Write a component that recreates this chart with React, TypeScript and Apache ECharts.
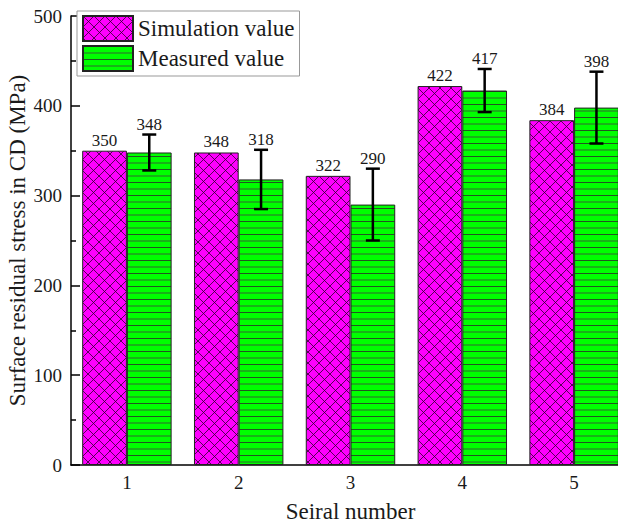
import React, { useEffect, useRef } from "react";
import * as echarts from "echarts";

const categories = ["1", "2", "3", "4", "5"];
const simulationValues = [350, 348, 322, 422, 384];
const measuredValues = [348, 318, 290, 417, 398];
const measuredErrors = [20, 33, 40, 24, 40];

const FONT = "Liberation Serif";
const TEXT = "#1a1a1a";

function makeCrossHatch(): HTMLCanvasElement {
  const c = document.createElement("canvas");
  c.width = 11;
  c.height = 11;
  const ctx = c.getContext("2d")!;
  ctx.fillStyle = "#ff00ff";
  ctx.fillRect(0, 0, 11, 11);
  ctx.strokeStyle = "#300030";
  ctx.lineWidth = 0.8;
  ctx.beginPath();
  ctx.moveTo(-1, -1);
  ctx.lineTo(12, 12);
  ctx.moveTo(-1, 12);
  ctx.lineTo(12, -1);
  ctx.stroke();
  return c;
}

function makeStripes(): HTMLCanvasElement {
  const c = document.createElement("canvas");
  c.width = 4;
  c.height = 13;
  const ctx = c.getContext("2d")!;
  ctx.fillStyle = "#00ff00";
  ctx.fillRect(0, 0, 4, 13);
  ctx.fillStyle = "#225522";
  ctx.fillRect(0, 0, 4, 1);
  ctx.fillStyle = "#336633";
  ctx.fillRect(0, 6.5, 4, 1);
  return c;
}

export default function App() {
  const ref = useRef<HTMLDivElement>(null);

  useEffect(() => {
    if (!ref.current) return;
    const chart = echarts.init(ref.current, undefined, { renderer: "svg" });
    const hatch = makeCrossHatch();
    const stripes = makeStripes();
    const hatchFill: any = { image: hatch, repeat: "repeat", imageWidth: 11, imageHeight: 11 };
    const stripeFill: any = { image: stripes, repeat: "repeat", imageWidth: 4, imageHeight: 13 };

    chart.setOption({
      animation: false,
      backgroundColor: "#ffffff",
      textStyle: { fontFamily: FONT, color: TEXT },
      grid: {
        left: 71,
        top: 16,
        width: 559,
        height: 449,
        containLabel: false,
        outerBoundsMode: "none",
      },
      legend: {
        orient: "vertical",
        left: 77,
        top: 11,
        padding: [4, 5, 4, 5],
        itemGap: 3,
        itemWidth: 50,
        itemHeight: 25,
        icon: "rect",
        borderColor: "#999999",
        borderWidth: 1,
        backgroundColor: "#ffffff",
        textStyle: { fontFamily: FONT, fontSize: 23, color: TEXT },
        data: ["Simulation value", "Measured value"],
      },
      xAxis: {
        type: "category",
        data: categories,
        name: "Seiral number",
        nameLocation: "middle",
        nameGap: 35,
        nameMoveOverlap: false,
        nameTextStyle: { fontFamily: FONT, fontSize: 23, color: TEXT },
        axisLine: { lineStyle: { color: "#000", width: 1.5 } },
        axisTick: { inside: true, length: 5, lineStyle: { color: "#000", width: 1.5 } },
        axisLabel: { fontFamily: FONT, fontSize: 19, color: TEXT, margin: 8 },
      },
      yAxis: {
        type: "value",
        min: 0,
        max: 500,
        interval: 100,
        name: "Surface residual stress in CD (MPa)",
        nameLocation: "middle",
        nameGap: 42,
        nameMoveOverlap: false,
        nameTextStyle: { fontFamily: FONT, fontSize: 23, color: TEXT },
        axisLine: { show: true, lineStyle: { color: "#000", width: 1.5 } },
        axisTick: { show: true, inside: true, length: 9, lineStyle: { color: "#000", width: 1.5 } },
        minorTick: { show: true, splitNumber: 2, length: 5, lineStyle: { color: "#000", width: 1.5 } },
        splitLine: { show: false },
        axisLabel: { fontFamily: FONT, fontSize: 19, color: TEXT, margin: 9 },
      },
      series: [
        {
          name: "Simulation value",
          type: "bar",
          data: simulationValues,
          barGap: "0%",
          barCategoryGap: "20%",
          itemStyle: { color: hatchFill, borderColor: "#222", borderWidth: 1 },
          label: {
            show: true,
            position: "top",
            distance: 2,
            fontFamily: FONT,
            fontSize: 17,
            color: TEXT,
          },
        },
        {
          name: "Measured value",
          type: "bar",
          data: measuredValues,
          barGap: "0%",
          barCategoryGap: "20%",
          itemStyle: { color: stripeFill, borderColor: "#222", borderWidth: 1 },
        },
        {
          type: "custom",
          data: measuredValues.map((v, i) => [i, v, measuredErrors[i]]),
          encode: { x: 0, y: 1 },
          z: 10,
          silent: true,
          renderItem: (params: any, api: any) => {
            const idx = api.value(0);
            const v = api.value(1);
            const e = api.value(2);
            const band = api.size([1, 0])[0];
            const top = api.coord([idx, v + e]);
            const bot = api.coord([idx, v - e]);
            const x = top[0] + band * 0.2;
            const ls = { stroke: "#000", lineWidth: 2.5 };
            return {
              type: "group",
              children: [
                { type: "line", shape: { x1: x, y1: top[1], x2: x, y2: bot[1] }, style: ls },
                { type: "line", shape: { x1: x - 7, y1: top[1], x2: x + 7, y2: top[1] }, style: ls },
                { type: "line", shape: { x1: x - 7, y1: bot[1], x2: x + 7, y2: bot[1] }, style: ls },
                {
                  type: "text",
                  x: x,
                  y: top[1] - 2,
                  style: {
                    text: String(v),
                    align: "center",
                    verticalAlign: "bottom",
                    fill: TEXT,
                    fontSize: 17,
                    fontFamily: FONT,
                  },
                },
              ],
            };
          },
        },
      ],
    });

    return () => chart.dispose();
  }, []);

  return <div ref={ref} style={{ width: 626, height: 529, margin: -8 }} />;
}
